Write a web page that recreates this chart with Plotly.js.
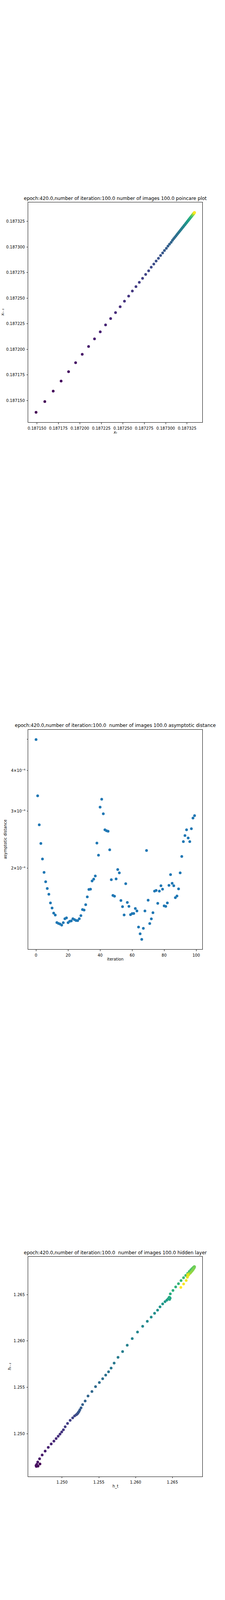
<!DOCTYPE html>
<html>
<head>
<meta charset="utf-8">
<script src="https://cdn.plot.ly/plotly-3.0.1.min.js"></script>
<style>
  html, body { margin: 0; padding: 0; background: #fff; }
  #chart { width: 576px; height: 4320px; }
</style>
</head>
<body>
<div id="chart"></div>
<script>
// poincare plot: output sequence x_t for t = 0..100
const poincareSeries = [
  0.1871385, 0.1871490, 0.1871592, 0.1871690, 0.1871782, 0.1871869, 0.1871951, 0.1872028, 0.1872102, 0.1872171,
  0.1872238, 0.1872300, 0.1872359, 0.1872416, 0.1872470, 0.1872520, 0.1872569, 0.1872612, 0.1872654, 0.1872693,
  0.1872731, 0.1872767, 0.1872802, 0.1872832, 0.1872862, 0.1872889, 0.1872916, 0.1872941, 0.1872965, 0.1872986,
  0.1873008, 0.1873027, 0.1873045, 0.1873064, 0.1873079, 0.1873093, 0.1873106, 0.1873119, 0.1873131, 0.1873142,
  0.1873153, 0.1873163, 0.1873173, 0.1873182, 0.1873191, 0.1873199, 0.1873207, 0.1873214, 0.1873221, 0.1873228,
  0.1873234, 0.1873240, 0.1873246, 0.1873251, 0.1873256, 0.1873261, 0.1873265, 0.1873269, 0.1873273, 0.1873277,
  0.1873280, 0.1873283, 0.1873286, 0.1873289, 0.1873292, 0.1873294, 0.1873297, 0.1873299, 0.1873301, 0.1873303,
  0.1873305, 0.1873307, 0.1873309, 0.1873310, 0.1873312, 0.1873313, 0.1873315, 0.1873316, 0.1873317, 0.1873319,
  0.1873320, 0.1873321, 0.1873322, 0.1873323, 0.1873324, 0.1873325, 0.1873326, 0.1873327, 0.1873328, 0.1873329,
  0.1873330, 0.1873330, 0.1873331, 0.1873332, 0.1873333, 0.1873333, 0.1873334, 0.1873335, 0.1873335, 0.1873336,
  0.1873337
];

// asymptotic distance per iteration (log scale)
const asymptoticDistance = [
  4.99e-6, 3.345e-6, 2.721e-6, 2.382e-6, 2.133e-6, 1.939e-6, 1.814e-6, 1.730e-6, 1.660e-6, 1.561e-6,
  1.505e-6, 1.452e-6, 1.432e-6, 1.357e-6, 1.349e-6, 1.343e-6, 1.333e-6, 1.356e-6, 1.394e-6, 1.403e-6,
  1.356e-6, 1.369e-6, 1.373e-6, 1.394e-6, 1.386e-6, 1.377e-6, 1.376e-6, 1.394e-6, 1.426e-6, 1.489e-6,
  1.483e-6, 1.541e-6, 1.629e-6, 1.717e-6, 1.721e-6, 1.825e-6, 1.849e-6, 1.890e-6, 2.389e-6, 2.192e-6,
  3.085e-6, 3.264e-6, 2.944e-6, 2.626e-6, 2.607e-6, 2.598e-6, 2.278e-6, 1.841e-6, 1.646e-6, 1.637e-6,
  1.851e-6, 1.979e-6, 1.933e-6, 1.588e-6, 1.520e-6, 1.433e-6, 1.790e-6, 1.566e-6, 1.523e-6, 1.436e-6,
  1.447e-6, 1.448e-6, 1.500e-6, 1.474e-6, 1.314e-6, 1.253e-6, 1.204e-6, 1.303e-6, 1.474e-6, 2.266e-6,
  1.591e-6, 1.348e-6, 1.393e-6, 1.456e-6, 1.697e-6, 1.706e-6, 1.556e-6, 1.697e-6, 1.763e-6, 1.721e-6,
  1.528e-6, 1.523e-6, 1.561e-6, 1.769e-6, 1.909e-6, 1.794e-6, 1.763e-6, 1.620e-6, 1.640e-6, 1.725e-6,
  1.933e-6, 2.173e-6, 2.415e-6, 2.520e-6, 2.626e-6, 2.477e-6, 2.415e-6, 2.646e-6, 2.855e-6, 2.904e-6
];

// hidden layer activation h_t for t = 0..100
const hiddenSeries = [
  1.24699, 1.24673, 1.24650, 1.24646, 1.24656, 1.24669, 1.24694, 1.24729, 1.24770, 1.24812,
  1.24852, 1.24889, 1.24919, 1.24947, 1.24972, 1.24995, 1.25018, 1.25042, 1.25074, 1.25110,
  1.25144, 1.25170, 1.25191, 1.25203, 1.25210, 1.25217, 1.25224, 1.25232, 1.25242, 1.25258,
  1.25279, 1.25314, 1.25353, 1.25406, 1.25455, 1.25507, 1.25552, 1.25593, 1.25632, 1.25667,
  1.25708, 1.25761, 1.25823, 1.25886, 1.25954, 1.26026, 1.26096, 1.26159, 1.26212, 1.26258,
  1.26299, 1.26332, 1.26368, 1.26400, 1.26424, 1.26440, 1.26452, 1.26462, 1.26470, 1.26462,
  1.26448, 1.26456, 1.26472, 1.26508, 1.26545, 1.26583, 1.26618, 1.26652, 1.26682, 1.26708,
  1.26730, 1.26750, 1.26766, 1.26779, 1.26789, 1.26796, 1.26800, 1.26802, 1.26799, 1.26792,
  1.26782, 1.26770, 1.26757, 1.26745, 1.26734, 1.26727, 1.26722, 1.26718, 1.26723, 1.26716,
  1.26712, 1.26708, 1.26714, 1.26709, 1.26716, 1.26710, 1.26704, 1.26688, 1.26653, 1.26615,
  1.26578
];

const titles = [
  'epoch:420.0,number of iteration:100.0 number of images 100.0 poincare plot',
  'epoch:420.0,number of iteration:100.0 \u00a0number of images 100.0 asymptotic distance',
  'epoch:420.0,number of iteration:100.0 \u00a0number of images 100.0 hidden layer'
];
// axis labels; italic ones are mathtext in the original
const xLabels = ['x\u209c', 'iteration', 'h_t'];
const xLabelItalic = [true, false, false];
const yLabels = ['x\u209c\u208b\u2081', 'asymptotic distance', 'h\u209c\u208b\u2081'];
const yLabelItalic = [true, false, true];
const logTickVals = [2e-6, 3e-6, 4e-6];
const logTickText = ['2\u00d710\u207b\u2076', '3\u00d710\u207b\u2076', '4\u00d710\u207b\u2076'];
const logMinorVals = [5e-6];

// ---- derived ----
const poincareX = poincareSeries.slice(1);      // x_t
const poincareY = poincareSeries.slice(0, -1);  // x_{t-1}
const iterations = asymptoticDistance.map((_, i) => i);
const hiddenX = hiddenSeries.slice(0, -1);
const hiddenY = hiddenSeries.slice(1);
const colorIdx = poincareX.map((_, i) => i);

// matplotlib style 5% autoscale margins
function padRange(arr, log) {
  const v = log ? arr.map(Math.log10) : arr;
  const lo = Math.min(...v), hi = Math.max(...v);
  const m = (hi - lo) * 0.05;
  return [lo - m, hi + m];
}

const W = 576, H = 4320;
const boxLeft = 72, boxRight = 518.4, boxH = 562.7;
const boxTops = [518.4, 1867.7, 3217.0];
const yLabelX = [6.5, 13, 24];
const FONT = 'DejaVu Sans, Arial, sans-serif';

const px = x => x / W;
const py = y => 1 - y / H;

const viridisMarker = { size: 7, color: colorIdx, colorscale: 'Viridis', cmin: 0, cmax: 99, line: { width: 0 } };

const traces = [
  { type: 'scatter', mode: 'markers', x: poincareX, y: poincareY, xaxis: 'x', yaxis: 'y',
    marker: viridisMarker, hoverinfo: 'skip' },
  { type: 'scatter', mode: 'markers', x: iterations, y: asymptoticDistance, xaxis: 'x2', yaxis: 'y2',
    marker: { size: 7, color: '#1f77b4', line: { width: 0 } }, hoverinfo: 'skip' },
  { type: 'scatter', mode: 'markers', x: hiddenX, y: hiddenY, xaxis: 'x3', yaxis: 'y3',
    marker: viridisMarker, hoverinfo: 'skip' }
];

function axisBase() {
  return {
    showline: true, mirror: true, linecolor: '#000', linewidth: 1,
    ticks: 'outside', ticklen: 3.5, tickwidth: 1, tickcolor: '#000',
    showgrid: false, zeroline: false, ticklabelstandoff: 2,
    tickfont: { family: FONT, size: 10, color: '#000' }
  };
}

const layout = {
  width: W, height: H,
  margin: { l: 0, r: 0, t: 0, b: 0 },
  paper_bgcolor: '#fff', plot_bgcolor: '#fff',
  showlegend: false,
  annotations: []
};

boxTops.forEach((top, k) => {
  const n = k === 0 ? '' : String(k + 1);
  const bottom = top + boxH;
  layout['xaxis' + n] = Object.assign(axisBase(), {
    domain: [px(boxLeft), px(boxRight)], anchor: 'y' + n
  });
  layout['yaxis' + n] = Object.assign(axisBase(), {
    domain: [py(bottom), py(top)], anchor: 'x' + n
  });
  const cx = (boxLeft + boxRight) / 2;
  layout.annotations.push(
    { text: titles[k], xref: 'paper', yref: 'paper', x: px(cx), y: py(top - 10.5),
      xanchor: 'center', yanchor: 'middle', showarrow: false,
      font: { family: FONT, size: 12, color: '#000' } },
    { text: xLabels[k], xref: 'paper', yref: 'paper', x: px(cx), y: py(bottom + 25),
      xanchor: 'center', yanchor: 'middle', showarrow: false,
      font: { family: FONT, size: 10, color: '#000', style: xLabelItalic[k] ? 'italic' : 'normal' } },
    { text: yLabels[k], xref: 'paper', yref: 'paper', x: px(yLabelX[k]), y: py(top + boxH / 2),
      xanchor: 'center', yanchor: 'middle', textangle: -90, showarrow: false,
      font: { family: FONT, size: 10, color: '#000', style: yLabelItalic[k] ? 'italic' : 'normal' } }
  );
});

// panel 1: poincare
Object.assign(layout.xaxis, { range: padRange(poincareX), tick0: 0.18715, dtick: 0.000025, tickformat: '.6f' });
Object.assign(layout.yaxis, { range: padRange(poincareY), tick0: 0.18715, dtick: 0.000025, tickformat: '.6f' });
// panel 2: asymptotic distance
Object.assign(layout.xaxis2, { range: padRange(iterations), tick0: 0, dtick: 20 });
Object.assign(layout.yaxis2, { type: 'log', range: padRange(asymptoticDistance, true),
  tickmode: 'array', tickvals: logTickVals, ticktext: logTickText, ticklen: 2,
  minor: { tickmode: 'array', tickvals: logMinorVals, ticks: 'outside', ticklen: 2, tickwidth: 1, tickcolor: '#000', showgrid: false } });
// panel 3: hidden layer
Object.assign(layout.xaxis3, { range: padRange(hiddenX), tick0: 1.25, dtick: 0.005, tickformat: '.3f' });
Object.assign(layout.yaxis3, { range: padRange(hiddenY), tick0: 1.25, dtick: 0.005, tickformat: '.3f' });

Plotly.newPlot('chart', traces, layout, { staticPlot: true, displayModeBar: false });
</script>
</body>
</html>
